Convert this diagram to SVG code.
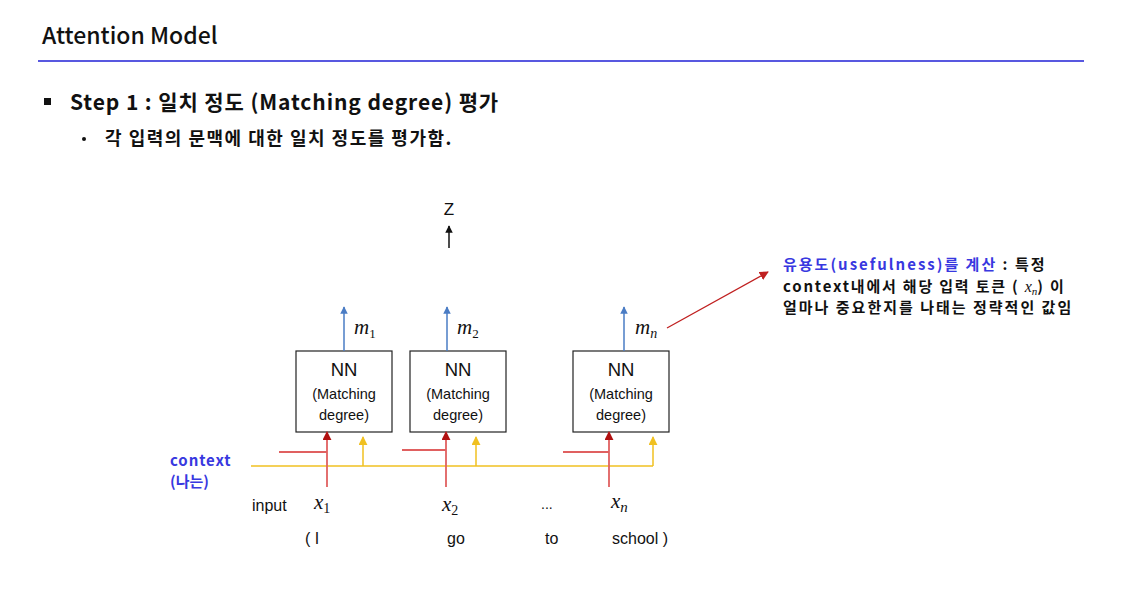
<svg xmlns="http://www.w3.org/2000/svg" width="1137" height="607" viewBox="0 0 1137 607">
  <defs>
    <style>
      .head { font-family: "Noto Sans CJK KR", "Noto Sans", sans-serif; fill: #111; }
      .ctx { font-family: "Noto Sans CJK KR", "Noto Sans", sans-serif; font-weight: 700; fill: #3838e0; }
      .lbl { font-family: "Liberation Sans", "Noto Sans CJK KR", sans-serif; fill: #111; }
      .math { font-family: "Liberation Serif", serif; font-style: italic; fill: #111; }
      .sub { font-family: "Liberation Serif", serif; font-style: normal; }
      .box { fill: #fff; stroke: #222; stroke-width: 1.2; }
      .blue { stroke: #4a7cc4; stroke-width: 1.5; fill: none; }
      .red { stroke: #e06060; stroke-width: 1.8; fill: none; }
      .yel { stroke: #f0c020; stroke-width: 1.5; fill: none; }
    </style>
    <marker id="ah-blue" viewBox="0 0 10 10" refX="9" refY="5" markerWidth="5" markerHeight="5" orient="auto">
      <path d="M0,0 L10,5 L0,10 z" fill="#4a7cc4"/>
    </marker>
    <marker id="ah-red" viewBox="0 0 10 10" refX="9" refY="5" markerWidth="5" markerHeight="5" orient="auto">
      <path d="M0,0 L10,5 L0,10 z" fill="#b01010"/>
    </marker>
    <marker id="ah-yel" viewBox="0 0 10 10" refX="9" refY="5" markerWidth="6" markerHeight="6" orient="auto">
      <path d="M0,0 L10,5 L0,10 z" fill="#f0c020"/>
    </marker>
    <marker id="ah-blk" viewBox="0 0 10 10" refX="9" refY="5" markerWidth="5" markerHeight="5" orient="auto">
      <path d="M0,0 L10,5 L0,10 z" fill="#111"/>
    </marker>
    <marker id="ah-ann" viewBox="0 0 10 10" refX="9" refY="5" markerWidth="7" markerHeight="7" orient="auto">
      <path d="M0,0 L10,5 L0,10 z" fill="#c02020"/>
    </marker>
  </defs>

  <rect width="1137" height="607" fill="#fff"/>

  <!-- page header -->
  <g id="header">
    <text class="head" x="42" y="44" font-size="23" font-weight="500">Attention Model</text>
    <line x1="38" y1="61" x2="1084" y2="61" stroke="#5858e0" stroke-width="2"/>
    <rect x="44" y="98" width="7" height="7" fill="#111"/>
    <text class="head" x="70" y="110" font-size="21" font-weight="700" letter-spacing="0.9">Step 1 : 일치 정도 (Matching degree) 평가</text>
    <circle cx="84" cy="139" r="2" fill="#111"/>
    <text class="head" x="105" y="145" font-size="18" font-weight="700" letter-spacing="1.5">각 입력의 문맥에 대한 일치 정도를 평가함.</text>
  </g>

  <!-- output -->
  <g id="output-z">
    <text class="lbl" x="449" y="215" font-size="17" text-anchor="middle">Z</text>
  </g>

  <!-- matching networks -->
  <g id="nn1">
    <rect class="box" x="296" y="351" width="96" height="81"/>
    <text class="lbl" x="344" y="376" font-size="18.5" text-anchor="middle">NN</text>
    <text class="lbl" x="344" y="399" font-size="14.5" text-anchor="middle">(Matching</text>
    <text class="lbl" x="344" y="420" font-size="14.5" text-anchor="middle">degree)</text>
  </g>
  <g id="nn2">
    <rect class="box" x="410" y="351" width="96" height="81"/>
    <text class="lbl" x="458" y="376" font-size="18.5" text-anchor="middle">NN</text>
    <text class="lbl" x="458" y="399" font-size="14.5" text-anchor="middle">(Matching</text>
    <text class="lbl" x="458" y="420" font-size="14.5" text-anchor="middle">degree)</text>
  </g>
  <g id="nnn">
    <rect class="box" x="573" y="351" width="96" height="81"/>
    <text class="lbl" x="621" y="376" font-size="18.5" text-anchor="middle">NN</text>
    <text class="lbl" x="621" y="399" font-size="14.5" text-anchor="middle">(Matching</text>
    <text class="lbl" x="621" y="420" font-size="14.5" text-anchor="middle">degree)</text>
  </g>

  <!-- connectors -->
  <g id="connectors">
    <!-- to Z -->
    <line x1="449" y1="248" x2="449" y2="226" stroke="#111" stroke-width="1.5" marker-end="url(#ah-blk)"/>
    <!-- matching outputs -->
    <line class="blue" x1="344" y1="351" x2="344" y2="307" marker-end="url(#ah-blue)"/>
    <line class="blue" x1="447" y1="351" x2="447" y2="307" marker-end="url(#ah-blue)"/>
    <line class="blue" x1="624" y1="351" x2="624" y2="307" marker-end="url(#ah-blue)"/>
    <!-- context line -->
    <line class="yel" x1="251" y1="466" x2="653" y2="466"/>
    <line class="yel" x1="363" y1="466" x2="363" y2="437" marker-end="url(#ah-yel)"/>
    <line class="yel" x1="476" y1="466" x2="476" y2="437" marker-end="url(#ah-yel)"/>
    <line class="yel" x1="653" y1="466" x2="653" y2="437" marker-end="url(#ah-yel)"/>
    <!-- input tokens -->
    <line class="red" x1="327" y1="487" x2="327" y2="432" marker-end="url(#ah-red)"/>
    <line class="red" x1="279" y1="452" x2="327" y2="452"/>
    <line class="red" x1="446" y1="487" x2="446" y2="432" marker-end="url(#ah-red)"/>
    <line class="red" x1="402" y1="450" x2="446" y2="450"/>
    <line class="red" x1="609" y1="487" x2="609" y2="432" marker-end="url(#ah-red)"/>
    <line class="red" x1="563" y1="452" x2="609" y2="452"/>
    <!-- annotation pointer -->
    <line x1="667" y1="328" x2="768" y2="272" stroke="#c02020" stroke-width="1.3" marker-end="url(#ah-ann)"/>
  </g>

  <!-- output labels -->
  <g id="m-labels">
    <text class="math" x="354" y="334" font-size="21">m<tspan class="sub" font-size="13" dy="4">1</tspan></text>
    <text class="math" x="457" y="334" font-size="21">m<tspan class="sub" font-size="13" dy="4">2</tspan></text>
    <text class="math" x="635" y="334" font-size="21">m<tspan font-size="14" dy="4">n</tspan></text>
  </g>

  <!-- context label -->
  <g id="context">
    <text class="ctx" x="170" y="466" font-size="15" letter-spacing="0.9">context</text>
    <text class="ctx" x="170" y="487" font-size="15">(나는)</text>
  </g>

  <!-- input row -->
  <g id="inputs">
    <text class="lbl" x="252" y="511" font-size="16">input</text>
    <text class="math" x="314" y="509" font-size="21">x<tspan class="sub" font-size="14" dy="4">1</tspan></text>
    <text class="math" x="442" y="511" font-size="21">x<tspan class="sub" font-size="14" dy="4">2</tspan></text>
    <text class="lbl" x="541" y="509" font-size="14">...</text>
    <text class="math" x="611" y="508" font-size="21">x<tspan font-size="15" dy="4">n</tspan></text>
    <text class="lbl" x="305" y="544" font-size="16">( I</text>
    <text class="lbl" x="447" y="544" font-size="16">go</text>
    <text class="lbl" x="545" y="544" font-size="16">to</text>
    <text class="lbl" x="612" y="544" font-size="16">school )</text>
  </g>

  <!-- annotation -->
  <g id="annotation">
    <text class="head" x="783" y="270" font-size="15" font-weight="700" letter-spacing="2"><tspan fill="#3838e0">유용도(usefulness)를 계산</tspan> : 특정</text>
    <text class="head" x="783" y="291.5" font-size="15" font-weight="700" letter-spacing="1.8">context내에서 해당 입력 토큰 ( <tspan class="math" font-weight="400" font-size="16" letter-spacing="0">x</tspan><tspan font-family="Liberation Serif, serif" font-style="italic" font-weight="400" font-size="11" dy="3" letter-spacing="0">n</tspan><tspan dy="-3">) 이</tspan></text>
    <text class="head" x="783" y="313" font-size="15" font-weight="700" letter-spacing="2">얼마나 중요한지를 나태는 정략적인 값임</text>
  </g>
</svg>
